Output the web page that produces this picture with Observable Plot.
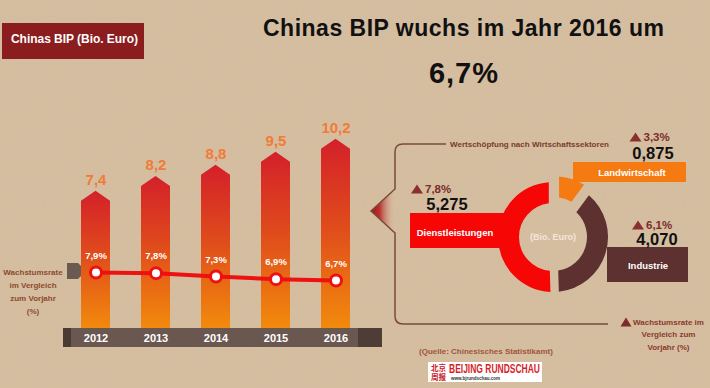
<!DOCTYPE html>
<html><head><meta charset="utf-8">
<script src="https://cdn.jsdelivr.net/npm/d3@7"></script>
<script src="https://cdn.jsdelivr.net/npm/@observablehq/plot@0.6"></script>
<style>
html,body{margin:0;padding:0;background:#d5bc9e;}
#root{position:relative;width:710px;height:388px;overflow:hidden;font-family:"Liberation Sans",Arial,Helvetica,sans-serif;}
</style></head><body><div id="root"></div>
<script>
// ---------- data ----------
const years = [2012, 2013, 2014, 2015, 2016];
const gdp = [7.4, 8.2, 8.8, 9.5, 10.2];          // Bio. Euro
const growth = [7.9, 7.8, 7.3, 6.9, 6.7];        // %
const sectors = ["Landwirtschaft", "Industrie", "Dienstleistungen"];
const sectorValues = [0.875, 4.070, 5.275];
const sectorGrowth = [3.3, 6.1, 7.8];
const sectorColors = ["#f57a12", "#5c312f", "#f70606"];
const titleText = "Chinas BIP wuchs im Jahr 2016 um";
const headlineText = "6,7%";
const boxText = "Chinas BIP (Bio. Euro)";
const growthLegend = ["Wachstumsrate", "im Vergleich", "zum Vorjahr", "(%)"];
const sectorHeader = "Wertschöpfung nach Wirtschaftssektoren";
const unitText = "(Bio. Euro)";
const rightLegend = ["Wachstumsrate im", "Vergleich zum", "Vorjahr  (%)"];
const sourceText = "(Quelle: Chinesisches Statistikamt)";

const de = (v, d) => v.toFixed(d).replace(".", ",");
const gdpData = years.map((y, i) => ({year: y, value: gdp[i], rate: growth[i]}));
const sectorData = sectors.map((s, i) => ({name: s, value: sectorValues[i], growth: sectorGrowth[i], color: sectorColors[i]}));

const root = d3.select("#root");
const layer = () => root.append("svg").attr("width", 710).attr("height", 388)
  .style("position", "absolute").style("left", "0px").style("top", "0px")
  .attr("font-family", "Liberation Sans, Arial, sans-serif");

// ---------- background / decoration ----------
const bg = layer();
const defs = bg.append("defs");
defs.append("filter").attr("id", "noise").attr("x", 0).attr("y", 0).attr("width", "100%").attr("height", "100%")
  .html('<feTurbulence type="fractalNoise" baseFrequency="0.8" numOctaves="2" stitchTiles="stitch"/><feColorMatrix type="saturate" values="0"/>');
const tg = defs.append("linearGradient").attr("id", "tipGrad").attr("x1", 0).attr("x2", 1).attr("y1", 0).attr("y2", 0);
tg.append("stop").attr("offset", "0").attr("stop-color", "#a0101a");
tg.append("stop").attr("offset", "0.35").attr("stop-color", "#b8302e");
tg.append("stop").attr("offset", "1").attr("stop-color", "#d5bc9e").attr("stop-opacity", 0);
bg.append("rect").attr("width", 710).attr("height", 388).attr("fill", "#d6bd9f");
bg.append("rect").attr("width", 710).attr("height", 388).attr("filter", "url(#noise)").attr("opacity", 0.08);

bg.append("rect").attr("x", 2).attr("y", 23).attr("width", 142).attr("height", 36).attr("fill", "#8b1d1e");
// year band
bg.append("rect").attr("x", 63).attr("y", 328).attr("width", 319).attr("height", 19).attr("fill", "#6a5850");
bg.append("rect").attr("x", 63).attr("y", 328).attr("width", 8).attr("height", 19).attr("fill", "#4a3a34");
bg.append("rect").attr("x", 358).attr("y", 328).attr("width", 24).attr("height", 19).attr("fill", "#4e3d37");
// marker at growth legend
bg.append("path").attr("d", "M67,263H78L86,271L78,279H67Z").attr("fill", "#6b5a4f");
// bracket
bg.append("path").attr("d", "M395,189L371,211L395,233Z").attr("fill", "url(#tipGrad)");
bg.append("path").attr("d", "M446,144H403Q395,144 395,152V189L371,211L395,233V316Q395,324 403,324H608")
  .attr("fill", "none").attr("stroke", "#7a4a3c").attr("stroke-width", 1.5);
// sector boxes
const boxes = {Landwirtschaft: [573, 162, 113, 20], Industrie: [607, 247, 81, 35], Dienstleistungen: [410, 213, 95, 35]};
sectorData.forEach(d => {
  const [x, y, w, h] = boxes[d.name];
  bg.append("rect").attr("x", x).attr("y", y).attr("width", w).attr("height", h).attr("fill", d.color);
});
// logo box
bg.append("rect").attr("x", 428).attr("y", 362).attr("width", 114).attr("height", 20).attr("fill", "#ffffff");

// ---------- main plot: bars + donut ----------
const xOpts = {type: "band", domain: years, range: [65, 365], paddingInner: 0.517, paddingOuter: 0.2585, align: 0.5, axis: null};
const plotStyle = {background: "transparent", position: "absolute", left: "0px", top: "0px", overflow: "visible", fontFamily: "Liberation Sans, Arial, sans-serif"};

function barsMark(index, scales) {
  const {x, y} = scales;
  const bw = x.bandwidth ? x.bandwidth() : 29;
  const g = d3.create("svg:g");
  const gr = g.append("defs").append("linearGradient").attr("id", "barGrad").attr("x1", 0).attr("y1", 0).attr("x2", 0).attr("y2", 1);
  gr.append("stop").attr("offset", "0").attr("stop-color", "#d4202a");
  gr.append("stop").attr("offset", "0.45").attr("stop-color", "#df4a1c");
  gr.append("stop").attr("offset", "1").attr("stop-color", "#f28a0c");
  g.selectAll("path").data(gdpData).join("path")
    .attr("d", d => {
      const x0 = x(d.year), x1 = x0 + bw, xm = x0 + bw / 2, yt = y(d.value), ys = yt + 10, yb = y(0);
      return `M${x0},${yb}V${ys}L${xm},${yt}L${x1},${ys}V${yb}Z`;
    })
    .attr("fill", "url(#barGrad)");
  return g.node();
}

function donutMark() {
  const g = d3.create("svg:g").attr("transform", "translate(553,237)");
  const pie = d3.pie().sort(null).value(d => d.value).padAngle(0.13);
  const arc = d3.arc().innerRadius(34).outerRadius(55);
  g.selectAll("path").data(pie(sectorData)).join("path")
    .attr("d", arc)
    .attr("fill", d => d.data.color)
    .attr("transform", d => {
      if (d.data.name !== "Landwirtschaft") return null;
      const a = (d.startAngle + d.endAngle) / 2;
      return `translate(${Math.sin(a) * 6},${-Math.cos(a) * 6})`;
    });
  return g.node();
}

const mainPlot = Plot.plot({
  width: 710, height: 388, margin: 0,
  x: xOpts,
  y: {domain: [0, 10], range: [328, 142.5], axis: null},
  style: plotStyle,
  marks: [
    barsMark,
    Plot.text(gdpData, {x: "year", y: "value", text: d => de(d.value, 1), dy: -11, fill: "#f17b37", fontSize: 15, fontWeight: "bold"}),
    Plot.text(gdpData, {x: "year", y: 0, text: d => String(d.year), dy: 10, fill: "#ffffff", fontSize: 11, fontWeight: "bold"}),
    donutMark
  ]
});
root.node().append(mainPlot);

// ---------- growth line overlay ----------
const growthPlot = Plot.plot({
  width: 710, height: 388, margin: 0,
  x: xOpts,
  y: {domain: [6.7, 7.9], range: [280, 272], axis: null},
  style: plotStyle,
  marks: [
    Plot.line(gdpData, {x: "year", y: "rate", stroke: "#ee1111", strokeWidth: 4}),
    Plot.dot(gdpData, {x: "year", y: "rate", r: 5.5, fill: "#ffffff", stroke: "#ee1111", strokeWidth: 3}),
    Plot.text(gdpData, {x: "year", y: "rate", text: d => de(d.rate, 1) + "%", dy: -17, fill: "#ffffff", fontSize: 9.5, fontWeight: "bold"})
  ]
});
root.node().append(growthPlot);

// ---------- text layer ----------
const tl = layer();
function txt(x, y, s, o = {}) {
  const t = tl.append("text").attr("x", x).attr("y", y)
    .attr("dominant-baseline", "central").attr("text-anchor", o.anchor || "middle")
    .attr("font-size", o.size || 10).attr("font-weight", "bold").attr("fill", o.fill || "#000").text(s);
  if (o.len) t.attr("textLength", o.len).attr("lengthAdjust", o.adj || "spacing");
  if (o.family) t.attr("font-family", o.family);
  return t;
}
function tri(cx, cy, w, h, fill) {
  tl.append("path").attr("d", `M${cx - w / 2},${cy + h / 2}L${cx},${cy - h / 2}L${cx + w / 2},${cy + h / 2}Z`).attr("fill", fill);
}

txt(463.5, 28, titleText, {size: 23, len: 401, fill: "#111"});
txt(463.5, 73, headlineText, {size: 29, len: 69, fill: "#111"});
txt(74.5, 39, boxText, {size: 12, fill: "#ffffff", len: 127});

growthLegend.forEach((s, i) => txt(33, 272 + i * 13, s, {size: 8, fill: "#8d4b2c"}));
txt(450, 144, sectorHeader, {size: 8, fill: "#7c3b27", anchor: "start", len: 159});

const sectorLayout = {
  Landwirtschaft: {tri: [635.5, 137], val: [653, 153], box: [632, 172]},
  Industrie: {tri: [638, 225], val: [657, 239], box: [648, 265]},
  Dienstleistungen: {tri: [417, 189], val: [447, 204], box: [455, 232]}
};
sectorData.forEach(d => {
  const L = sectorLayout[d.name];
  tri(L.tri[0], L.tri[1], 12, 9, "#8a3030");
  txt(L.tri[0] + 8, L.tri[1], de(d.growth, 1) + "%", {size: 11.5, fill: "#7a2c28", anchor: "start"});
  txt(L.val[0], L.val[1], de(d.value, 3), {size: 16.5, fill: "#111"});
  txt(L.box[0], L.box[1], d.name, {size: 9.5, fill: "#ffffff"});
});
txt(553, 237, unitText, {size: 9, fill: "#f2e6d8"});

tri(626, 322, 11, 9, "#7e2a28");
rightLegend.forEach((s, i) => txt(668.5, 322 + i * 12.5, s, {size: 8, fill: "#8b3b2b"}));
txt(486, 351, sourceText, {size: 8, fill: "#a0563a"});

// logo
txt(494.5, 368.5, "BEIJING RUNDSCHAU", {size: 13, fill: "#d81e2a", len: 91, adj: "spacingAndGlyphs", family: "Liberation Sans Narrow, Liberation Sans, Arial, sans-serif"});
txt(451, 378.5, "www.bjrundschau.com", {size: 4.5, fill: "#333", anchor: "start"});
txt(438.5, 367, "北京", {size: 7.5, fill: "#c8141e", family: "Noto Sans CJK SC, sans-serif"});
txt(438.5, 376.5, "周报", {size: 7.5, fill: "#c8141e", family: "Noto Sans CJK SC, sans-serif"});
</script></body></html>
